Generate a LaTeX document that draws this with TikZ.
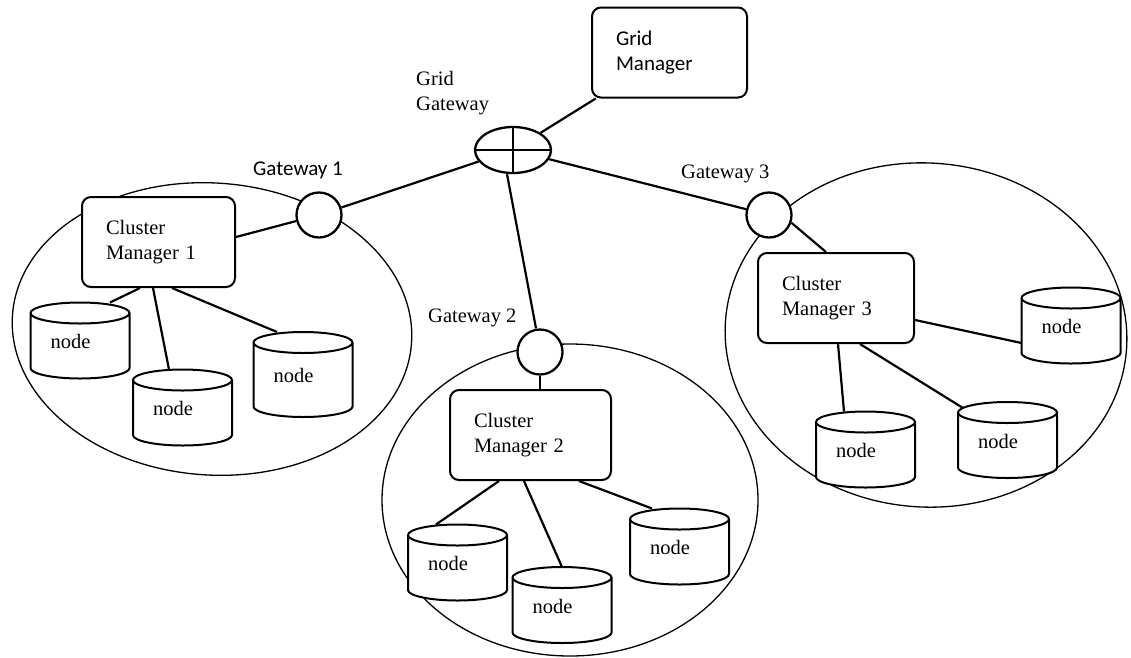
\documentclass[tikz,border=0pt]{standalone}
\usepackage{fontspec}
\setmainfont{Liberation Serif}
\newfontfamily\calibri{Carlito}
\usetikzlibrary{shapes.geometric}
\newcommand\txt{\fontsize{20.5}{25}\selectfont}
\newcommand\sanstxt{\calibri\fontsize{21}{25}\selectfont}

\begin{document}
\begin{tikzpicture}[x=1pt, y=-1pt, font=\txt,
  box/.style={draw, fill=white, line width=2pt, rounded corners=9pt, minimum height=90pt, inner xsep=24pt, align=left},
  gate/.style={draw, fill=white, circle, line width=2.3pt, minimum size=45pt, inner sep=0pt},
  store/.style={rectangle, minimum width=99pt, minimum height=76pt, inner sep=0pt, outer sep=0pt, label={[lbl]center:node}},
  cyl/.style={draw, fill=white, line width=2pt},
  lbl/.style={xshift=-9.5pt, yshift=-1pt, inner sep=0pt},
  cluster/.style={draw, line width=1.3pt},
  wire/.style={line width=2.2pt}]
  \useasboundingbox (0,0) rectangle (1131,657);

  \draw[cluster, rotate around={-4:(212,329)}] (212,329) ellipse [x radius=200, y radius=146];
  \draw[cluster] (570,500) ellipse [x radius=188, y radius=156];
  \draw[cluster, rotate around={-4:(926,335)}] (926,335) ellipse [x radius=201, y radius=172];

  \node[box, font=\sanstxt, text width=107pt] (gm) at (669.5,52.5) {Grid\\Manager};
  \node[draw, fill=white, ellipse, line width=2.3pt, minimum width=76pt, minimum height=46pt, inner sep=0pt] (gg) at (513,150) {};
  \draw[line width=2.3pt] (gg.north) -- (gg.south) (gg.west) -- (gg.east);
  \node[anchor=north west, align=left, inner sep=0pt] (gglbl) at (416,71) {Grid\\Gateway};

  \node[gate] (gw1) at (319,215) {};
  \node[gate] (gw2) at (540,352) {};
  \node[gate] (gw3) at (769,215) {};
  \node[anchor=base west, inner sep=0pt, font=\sanstxt] (gw1lbl) at (253,175) {Gateway 1};
  \node[anchor=base west, inner sep=0pt] (gw2lbl) at (428,322) {Gateway 2};
  \node[anchor=base west, inner sep=0pt] (gw3lbl) at (681,178) {Gateway 3};

  \node[box, text width=105pt] (cmA) at (158.5,242) {Cluster\\Manager 1};
  \node[box, text width=113pt] (cmB) at (530.5,435) {Cluster\\Manager 2};
  \node[box, text width=108pt] (cmC) at (836,298) {Cluster\\Manager 3};

  % node bodies drawn first, the text is put on top afterwards
  \foreach \n/\pos/\h in {nA1/{80,340.5}/76, nA2/{182.5,407.5}/76, nA3/{303,374.5}/85,
      nB1/{457.5,562.5}/76, nB2/{562,605}/76, nB3/{679.5,546.5}/76,
      nC1/{1071,325.5}/76, nC2/{865.5,449.5}/76, nC3/{1007.5,440}/76} {
    \path (\pos) coordinate (c);
    \draw[cyl] ([shift={(-49.5pt,\h pt/2-10.5pt)}]c) -- ([shift={(-49.5pt,-\h pt/2+10.5pt)}]c)
      arc[start angle=180, end angle=360, x radius=49.5pt, y radius=10.5pt]
      -- ([shift={(49.5pt,\h pt/2-10.5pt)}]c)
      arc[start angle=0, end angle=180, x radius=49.5pt, y radius=10.5pt] -- cycle
      ([yshift=\h pt/2-10.5pt]c) ellipse [x radius=49.5pt, y radius=10.5pt];
  }
  \node[store] (nA1) at (80,340.5) {};
  \node[store] (nA2) at (182.5,407.5) {};
  \node[store, minimum height=85pt] (nA3) at (303,374.5) {};
  \node[store] (nB1) at (457.5,562.5) {};
  \node[store] (nB2) at (562,605) {};
  \node[store] (nB3) at (679.5,546.5) {};
  \node[store] (nC1) at (1071,325.5) {};
  \node[store] (nC2) at (865.5,449.5) {};
  \node[store] (nC3) at (1007.5,440) {};

  \draw[wire] (gg) -- (gm);
  \draw[wire] (gg) -- (gw1);
  \draw[wire] ([xshift=-6pt]gg.south) -- ([xshift=-4pt]gw2.north);
  \draw[wire] (gg) -- (gw3);
  \draw[wire] (gw1) -- ([yshift=5pt]cmA.east);
  \draw[wire] (gw2) -- (gw2 |- cmB.north);
  \draw[wire] (gw3.-19) -- ([xshift=-10pt]cmC.north);

  \draw[wire] ([xshift=-18.5pt]cmA.south) -- ([xshift=30pt]nA1.north);
  \draw[wire] ([xshift=-5.5pt]cmA.south) -- ([xshift=-13.5pt]nA2.north);
  \draw[wire] ([xshift=13.5pt]cmA.south) -- ([xshift=-26pt]nA3.north);
  \draw[wire] ([xshift=-31.5pt]cmB.south) -- ([xshift=-21.5pt]nB1.north);
  \draw[wire] ([xshift=-6.5pt]cmB.south) -- (nB2.north);
  \draw[wire] ([xshift=48.5pt]cmB.south) -- ([xshift=-27.5pt]nB3.north);
  \draw[wire] ([yshift=-22pt]cmC.east) -- ([yshift=-17.5pt]nC1.west);
  \draw[wire] ([xshift=2pt]cmC.south) -- ([xshift=-21.5pt]nC2.north);
  \draw[wire] ([xshift=24pt]cmC.south) -- ([xshift=-44.5pt, yshift=-6pt]nC3.north);
\end{tikzpicture}
\end{document}
